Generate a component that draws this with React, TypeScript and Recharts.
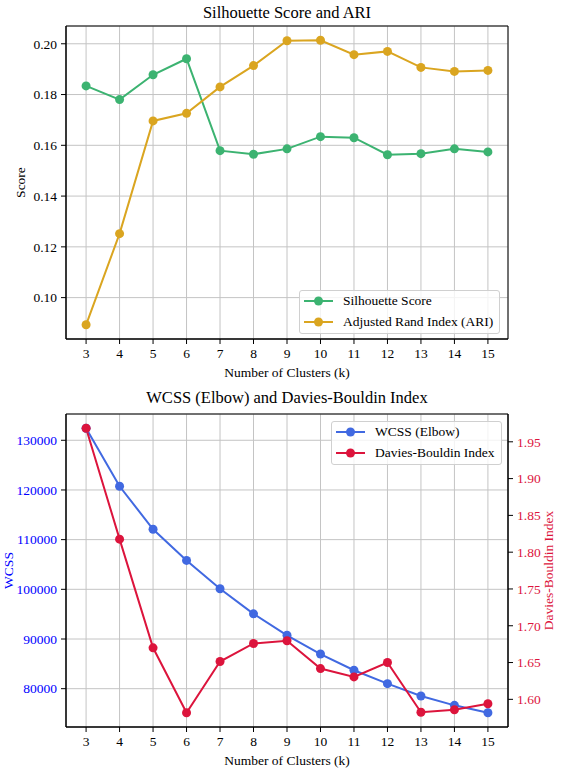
import React from "react";
import {
  LineChart,
  Line,
  XAxis,
  YAxis,
  CartesianGrid,
  Legend,
  ReferenceArea,
} from "recharts";

const clusters = [3, 4, 5, 6, 7, 8, 9, 10, 11, 12, 13, 14, 15];

const silhouette = [0.1834, 0.178, 0.1878, 0.1941, 0.1579, 0.1565, 0.1586, 0.1634, 0.163, 0.1563, 0.1567, 0.1586, 0.1574];
const ari = [0.0893, 0.1252, 0.1696, 0.1726, 0.183, 0.1914, 0.2012, 0.2014, 0.1957, 0.197, 0.1907, 0.1891, 0.1895];

const wcss = [132424, 120747, 112081, 105818, 100121, 95071, 90747, 86970, 83717, 81010, 78525, 76646, 75152];
const daviesBouldin = [1.9685, 1.8177, 1.67, 1.5817, 1.6514, 1.6759, 1.6796, 1.6418, 1.6305, 1.65, 1.5824, 1.5858, 1.594];

const scoreTicks = [0.1, 0.12, 0.14, 0.16, 0.18, 0.2];
const wcssTicks = [80000, 90000, 100000, 110000, 120000, 130000];
const dbTicks = [1.6, 1.65, 1.7, 1.75, 1.8, 1.85, 1.9, 1.95];

const FONT = '"Liberation Serif", "Times New Roman", serif';
const GREEN = "#3cb371";
const GOLD = "#daa520";
const BLUE = "#4169e1";
const RED = "#dc143c";
const GRID = "#c4c4c4";

const scoreData = clusters.map((k, i) => ({ k, silhouette: silhouette[i], ari: ari[i] }));
const elbowData = clusters.map((k, i) => ({ k, wcss: wcss[i], db: daviesBouldin[i] }));

const X_DOMAIN: [number, number] = [2.4, 15.6];

type Item = { label: string; color: string };

function LegendBox({ items }: { items: Item[] }) {
  return (
    <div
      style={{
        background: "rgba(255,255,255,0.8)",
        border: "1px solid #d0d0d0",
        borderRadius: 3,
        padding: "0 6px 1px 4px",
        fontFamily: FONT,
        fontSize: 13.5,
        color: "#000",
      }}
    >
      {items.map((it) => (
        <div key={it.label} style={{ display: "flex", alignItems: "center", height: 20.5 }}>
          <svg width={29} height={12} style={{ marginRight: 10 }}>
            <line x1={0} x2={29} y1={6} y2={6} stroke={it.color} strokeWidth={2} />
            <circle cx={14.5} cy={6} r={4.5} fill={it.color} />
          </svg>
          <span style={{ whiteSpace: "nowrap" }}>{it.label}</span>
        </div>
      ))}
    </div>
  );
}

const tickStyle = { fill: "#000", fontSize: 13.5, fontFamily: FONT };
const titleStyle: React.CSSProperties = {
  position: "absolute",
  left: 66,
  width: 442,
  textAlign: "center",
  fontFamily: FONT,
  fontSize: 16.5,
  lineHeight: "16.5px",
  color: "#000",
};

export default function App() {
  return (
    <div style={{ position: "absolute", left: 0, top: 0, width: 561, height: 769, background: "#fff" }}>
      <div style={{ ...titleStyle, top: 4.5 }}>Silhouette Score and ARI</div>
      <div style={{ position: "absolute", left: 0, top: 0 }}>
        <LineChart width={561} height={384} data={scoreData} margin={{ top: 26, right: 53, left: 0, bottom: 5 }}>
          <CartesianGrid stroke={GRID} strokeWidth={1} />
          <XAxis
            type="number"
            dataKey="k"
            domain={X_DOMAIN}
            ticks={clusters}
            allowDataOverflow
            height={40}
            tickSize={5}
            tickMargin={4}
            stroke="#000"
            tick={tickStyle}
            label={{ value: "Number of Clusters (k)", position: "insideTop", offset: 28, fill: "#000", fontSize: 13.5, fontFamily: FONT }}
          />
          <YAxis
            type="number"
            domain={[0.0837, 0.207]}
            ticks={scoreTicks}
            allowDataOverflow
            width={66}
            tickSize={5}
            tickMargin={4}
            stroke="#000"
            tick={tickStyle}
            tickFormatter={(v: number) => v.toFixed(2)}
            label={{ value: "Score", angle: -90, position: "insideLeft", offset: 20, fill: "#000", fontSize: 13.5, fontFamily: FONT, style: { textAnchor: "middle" } }}
          />
          <ReferenceArea x1={X_DOMAIN[0]} x2={X_DOMAIN[1]} y1={0.0837} y2={0.207} fill="none" stroke="#000" strokeWidth={1} ifOverflow="visible" />
          <Line type="linear" dataKey="silhouette" stroke={GREEN} strokeWidth={2} dot={{ r: 4.5, fill: GREEN, stroke: GREEN, strokeWidth: 0 }} activeDot={false} isAnimationActive={false} />
          <Line type="linear" dataKey="ari" stroke={GOLD} strokeWidth={2} dot={{ r: 4.5, fill: GOLD, stroke: GOLD, strokeWidth: 0 }} activeDot={false} isAnimationActive={false} />
          <Legend
            layout="vertical"
            align="center"
            verticalAlign="middle"
            wrapperStyle={{ left: 299, top: 290, width: "auto", height: "auto" }}
            content={() => (
              <LegendBox items={[{ label: "Silhouette Score", color: GREEN }, { label: "Adjusted Rand Index (ARI)", color: GOLD }]} />
            )}
          />
        </LineChart>
      </div>

      <div style={{ ...titleStyle, top: 390 }}>WCSS (Elbow) and Davies-Bouldin Index</div>
      <div style={{ position: "absolute", left: 0, top: 384 }}>
        <LineChart width={561} height={385} data={elbowData} margin={{ top: 30, right: 0, left: 0, bottom: 2 }}>
          <CartesianGrid stroke={GRID} strokeWidth={1} yAxisId="left" />
          <XAxis
            type="number"
            dataKey="k"
            domain={X_DOMAIN}
            ticks={clusters}
            allowDataOverflow
            height={40}
            tickSize={5}
            tickMargin={4}
            stroke="#000"
            tick={tickStyle}
            label={{ value: "Number of Clusters (k)", position: "insideTop", offset: 28, fill: "#000", fontSize: 13.5, fontFamily: FONT }}
          />
          <YAxis
            yAxisId="left"
            type="number"
            domain={[72288, 135288]}
            ticks={wcssTicks}
            allowDataOverflow
            width={66}
            tickSize={5}
            tickMargin={4}
            stroke="#000"
            tick={{ ...tickStyle, fill: "#0000ff" }}
            label={{ value: "WCSS", angle: -90, position: "insideLeft", offset: 8, fill: "#0000ff", fontSize: 13.5, fontFamily: FONT, style: { textAnchor: "middle" } }}
          />
          <YAxis
            yAxisId="right"
            orientation="right"
            type="number"
            domain={[1.5624, 1.9878]}
            ticks={dbTicks}
            allowDataOverflow
            width={53}
            tickSize={5}
            tickMargin={4}
            stroke="#000"
            tick={{ ...tickStyle, fill: RED }}
            tickFormatter={(v: number) => v.toFixed(2)}
            label={{ value: "Davies-Bouldin Index", angle: -90, position: "insideRight", offset: 13, fill: RED, fontSize: 13.5, fontFamily: FONT, style: { textAnchor: "middle" } }}
          />
          <ReferenceArea yAxisId="left" x1={X_DOMAIN[0]} x2={X_DOMAIN[1]} y1={72288} y2={135288} fill="none" stroke="#000" strokeWidth={1} ifOverflow="visible" />
          <Line yAxisId="left" type="linear" dataKey="wcss" stroke={BLUE} strokeWidth={2} dot={{ r: 4.5, fill: BLUE, stroke: BLUE, strokeWidth: 0 }} activeDot={false} isAnimationActive={false} />
          <Line yAxisId="right" type="linear" dataKey="db" stroke={RED} strokeWidth={2} dot={{ r: 4.5, fill: RED, stroke: RED, strokeWidth: 0 }} activeDot={false} isAnimationActive={false} />
          <Legend
            layout="vertical"
            align="center"
            verticalAlign="middle"
            wrapperStyle={{ left: 331, top: 37, width: "auto", height: "auto" }}
            content={() => (
              <LegendBox items={[{ label: "WCSS (Elbow)", color: BLUE }, { label: "Davies-Bouldin Index", color: RED }]} />
            )}
          />
        </LineChart>
      </div>
    </div>
  );
}
